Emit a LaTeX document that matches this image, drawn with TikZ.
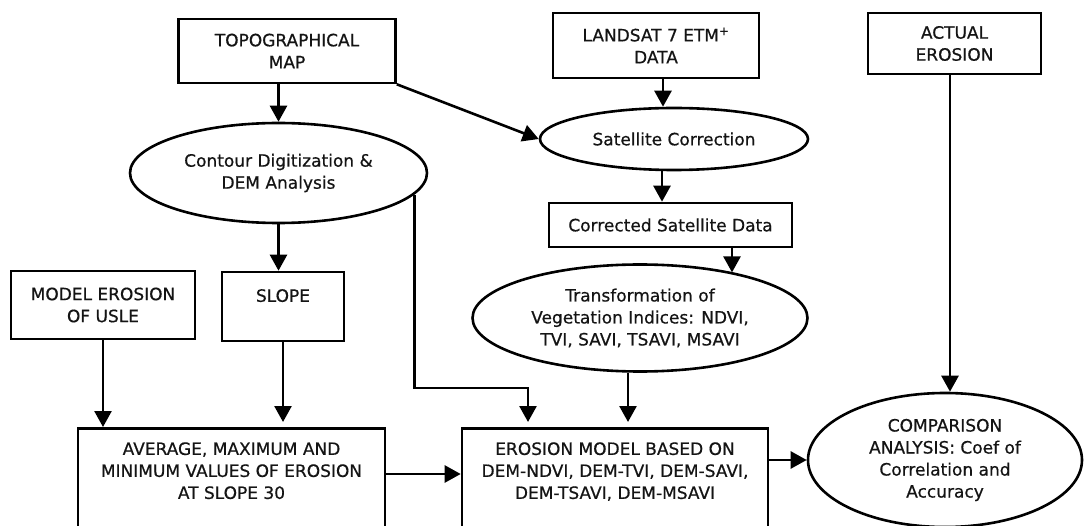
\documentclass[tikz,border=0pt]{standalone}
\usepackage{fontspec}
\setmainfont{DejaVu Sans}
\newfontfamily\flowfont{DejaVu Sans}[FakeBold=0.6]
\usepackage{tikz}
\usetikzlibrary{shapes.geometric,arrows.meta,calc}
\tikzset{
	procbox/.style={draw, line width=2.6pt, inner sep=0pt, align=center, text=black!92},
	procoval/.style={ellipse, draw, line width=2.6pt, inner sep=0pt, align=center, text=black!92},
	flow/.style={line width=2.6pt, -{Triangle[length=16pt,width=17pt]}}
}

\begin{document}
\begin{tikzpicture}[x=1pt, y=-1pt, font=\flowfont\fontsize{17pt}{22pt}\selectfont]
					\useasboundingbox (0,0) rectangle (1084,526);
					%INPUTS
					\node[procbox, minimum width=217pt, minimum height=64pt] (topo) at (287,51) {TOPOGRAPHICAL\\MAP};
					\node[procbox, minimum width=206pt, minimum height=65pt] (landsat) at (656,45.5) {LANDSAT 7 ETM\textsuperscript{+}\\DATA};
					\node[procbox, minimum width=173pt, minimum height=61pt] (actual) at (954.5,43.5) {ACTUAL\\EROSION};
					%PROCESSING
					\node[procoval, minimum width=297pt, minimum height=100pt] (contour) at (278.5,173) {Contour Digitization \&\\DEM Analysis};
					\node[procoval, minimum width=268pt, minimum height=62pt] (satcorr) at (674,139) {Satellite Correction};
					\node[procbox, minimum width=243pt, minimum height=44pt] (corrected) at (670.5,225) {Corrected Satellite Data};
					\node[procbox, minimum width=184pt, minimum height=68pt] (usle) at (103,305) {MODEL EROSION\\OF USLE};
					\node[procbox, minimum width=122pt, minimum height=69pt] (slope) at (283,306.5) {SLOPE\\~};
					\node[procoval, minimum width=335pt, minimum height=107pt] (transform) at (640,318) {Transformation of\\Vegetation Indices: NDVI,\\TVI, SAVI, TSAVI, MSAVI};
					%RESULTS
					\node[procbox, anchor=north, minimum width=307pt, inner ysep=14pt, text depth=60pt] (average) at (231.5,427) {AVERAGE, MAXIMUM AND\\MINIMUM VALUES OF EROSION\\AT SLOPE 30};
					\node[procbox, anchor=north, minimum width=306pt, inner ysep=14pt, text depth=60pt] (erosion) at (615,427) {EROSION MODEL BASED ON\\DEM-NDVI, DEM-TVI, DEM-SAVI,\\DEM-TSAVI, DEM-MSAVI};
					\node[procoval, minimum width=274pt, minimum height=134pt] (comparison) at (945,460) {COMPARISON\\ANALYSIS: Coef of\\Correlation and\\Accuracy};
					%HELPER POINTS
					\coordinate (l1) at ([xshift=7pt]landsat.south);
					\coordinate (s1) at ([xshift=-12pt]satcorr.south);
					\coordinate (c1) at ([xshift=61.5pt]corrected.south);
					\coordinate (t1) at ([xshift=-12pt]transform.south);
					\coordinate (e1) at ([xshift=-87pt]erosion.north);
					\coordinate (a1) at ([yshift=-47pt]average.north east);
					\coordinate (x1) at ([xshift=-4.5pt]actual.south);
					%ARROWS
					\draw[flow] (topo.south -| contour.north) -- (contour.north);
					\draw[flow] (topo.south east) -- (satcorr.west);
					\draw[flow] (l1) -- (l1 |- satcorr.north);
					\draw[flow] (s1) -- (s1 |- corrected.north);
					\draw[flow] (c1) -- (c1 |- transform.26);
					\draw[flow] (contour.south) -- (contour.south |- slope.north);
					\draw[flow] (usle.south) -- (usle.south |- average.north);
					\draw[flow, shorten >=5pt] (slope.south) -- (slope.south |- average.north);
					\draw[flow, shorten >=5pt] (contour.-9) |- ([yshift=39pt]e1) -- (e1);
					\draw[flow, shorten >=5pt] (t1) -- (t1 |- erosion.north);
					\draw[flow] (a1) -- (a1 -| erosion.west);
					\draw[flow] (comparison.west -| erosion.east) -- (comparison.west);
					\draw[flow] (x1) -- (x1 |- comparison.north);
\end{tikzpicture}
\end{document}
